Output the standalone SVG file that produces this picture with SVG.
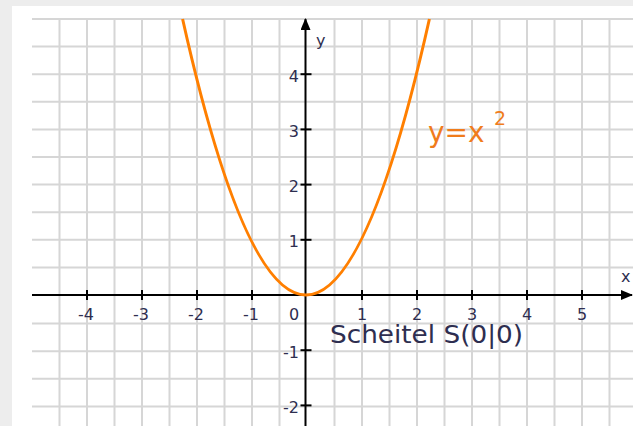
<svg xmlns="http://www.w3.org/2000/svg" width="633" height="426" viewBox="0 0 633 426">
  <style>
    .grid line { stroke: #d6d6d6; stroke-width: 2; }
    .axis { stroke: #000; stroke-width: 2; fill: none; }
    .tick { stroke: #000; stroke-width: 2; }
    .num { font-family: "DejaVu Sans", Verdana, sans-serif; font-size: 16px; fill: #2e2e50; }
    .numx { text-anchor: middle; }
    .numy { text-anchor: end; }
    .lbl { font-family: "DejaVu Sans", Verdana, sans-serif; fill: #2e2e50; }
    .orange { fill: #f07c1c; font-family: "DejaVu Sans", Verdana, sans-serif; }
  </style>
  <defs>
    <marker id="arrow" viewBox="0 0 12 10" refX="11" refY="5" markerWidth="12" markerHeight="10" markerUnits="userSpaceOnUse" orient="auto">
      <path d="M0,0 L12,5 L0,10 Z" fill="#000"/>
    </marker>
  </defs>
  <rect x="0" y="0" width="633" height="426" fill="#ededed"/>
  <rect x="12" y="6" width="621" height="420" fill="#ffffff"/>
  <g id="grid" class="grid">
    <line x1="32" y1="19" x2="633" y2="19"/>
    <line x1="32" y1="46.6" x2="633" y2="46.6"/>
    <line x1="32" y1="74.2" x2="633" y2="74.2"/>
    <line x1="32" y1="101.8" x2="633" y2="101.8"/>
    <line x1="32" y1="129.4" x2="633" y2="129.4"/>
    <line x1="32" y1="157" x2="633" y2="157"/>
    <line x1="32" y1="184.6" x2="633" y2="184.6"/>
    <line x1="32" y1="212.2" x2="633" y2="212.2"/>
    <line x1="32" y1="239.8" x2="633" y2="239.8"/>
    <line x1="32" y1="267.4" x2="633" y2="267.4"/>
    <line x1="32" y1="323.6" x2="633" y2="323.6"/>
    <line x1="32" y1="351.2" x2="633" y2="351.2"/>
    <line x1="32" y1="378.8" x2="633" y2="378.8"/>
    <line x1="32" y1="406.4" x2="633" y2="406.4"/>
    <line x1="59.5" y1="19" x2="59.5" y2="426"/>
    <line x1="87" y1="19" x2="87" y2="426"/>
    <line x1="114.5" y1="19" x2="114.5" y2="426"/>
    <line x1="142" y1="19" x2="142" y2="426"/>
    <line x1="169.5" y1="19" x2="169.5" y2="426"/>
    <line x1="197" y1="19" x2="197" y2="426"/>
    <line x1="224.5" y1="19" x2="224.5" y2="426"/>
    <line x1="252" y1="19" x2="252" y2="426"/>
    <line x1="279.5" y1="19" x2="279.5" y2="426"/>
    <line x1="334.5" y1="19" x2="334.5" y2="426"/>
    <line x1="362" y1="19" x2="362" y2="426"/>
    <line x1="389.5" y1="19" x2="389.5" y2="426"/>
    <line x1="417" y1="19" x2="417" y2="426"/>
    <line x1="444.5" y1="19" x2="444.5" y2="426"/>
    <line x1="472" y1="19" x2="472" y2="426"/>
    <line x1="499.5" y1="19" x2="499.5" y2="426"/>
    <line x1="527" y1="19" x2="527" y2="426"/>
    <line x1="554.5" y1="19" x2="554.5" y2="426"/>
    <line x1="582" y1="19" x2="582" y2="426"/>
    <line x1="609.5" y1="19" x2="609.5" y2="426"/>
  </g>
  <g id="connectors">
    <line class="axis" x1="32" y1="295" x2="632" y2="295" marker-end="url(#arrow)"/>
    <line class="axis" x1="305.5" y1="426" x2="305.5" y2="19" marker-end="url(#arrow)"/>
  </g>
  <g id="ticks" class="tick">
    <line x1="87" y1="290" x2="87" y2="300"/>
    <line x1="142" y1="290" x2="142" y2="300"/>
    <line x1="197" y1="290" x2="197" y2="300"/>
    <line x1="252" y1="290" x2="252" y2="300"/>
    <line x1="362" y1="290" x2="362" y2="300"/>
    <line x1="417" y1="290" x2="417" y2="300"/>
    <line x1="472" y1="290" x2="472" y2="300"/>
    <line x1="527" y1="290" x2="527" y2="300"/>
    <line x1="582" y1="290" x2="582" y2="300"/>
    <line x1="300.5" y1="74.2" x2="311.5" y2="74.2"/>
    <line x1="300.5" y1="129.4" x2="311.5" y2="129.4"/>
    <line x1="300.5" y1="184.6" x2="311.5" y2="184.6"/>
    <line x1="300.5" y1="239.8" x2="311.5" y2="239.8"/>
    <line x1="300.5" y1="350.2" x2="311.5" y2="350.2"/>
    <line x1="300.5" y1="405.4" x2="311.5" y2="405.4"/>
  </g>
  <g id="x-labels" class="num numx">
    <text x="86" y="320">-4</text>
    <text x="141" y="320">-3</text>
    <text x="196" y="320">-2</text>
    <text x="251" y="320">-1</text>
    <text x="294" y="320">0</text>
    <text x="362" y="320">1</text>
    <text x="417" y="320">2</text>
    <text x="472" y="320">3</text>
    <text x="527" y="320">4</text>
    <text x="582" y="320">5</text>
  </g>
  <g id="y-labels" class="num numy">
    <text x="299" y="81.5">4</text>
    <text x="299" y="136.7">3</text>
    <text x="299" y="191.9">2</text>
    <text x="299" y="247.1">1</text>
    <text x="299" y="357.5">-1</text>
    <text x="299" y="412.7">-2</text>
  </g>
  <g id="axis-names" class="num">
    <text x="316" y="46">y</text>
    <text x="621" y="282">x</text>
  </g>
  <g id="parabola">
    <path d="M182.6,19 Q306,571 429.4,19" fill="none" stroke="#ff7f00" stroke-width="3"/>
  </g>
  <g id="formula">
    <text class="orange" x="428" y="142" font-size="28">y=x</text>
    <text class="orange" x="494" y="125" font-size="19">2</text>
  </g>
  <g id="vertex-label">
    <text class="lbl" x="330" y="343" font-size="25" textLength="193" lengthAdjust="spacingAndGlyphs">Scheitel S(0|0)</text>
  </g>
</svg>
